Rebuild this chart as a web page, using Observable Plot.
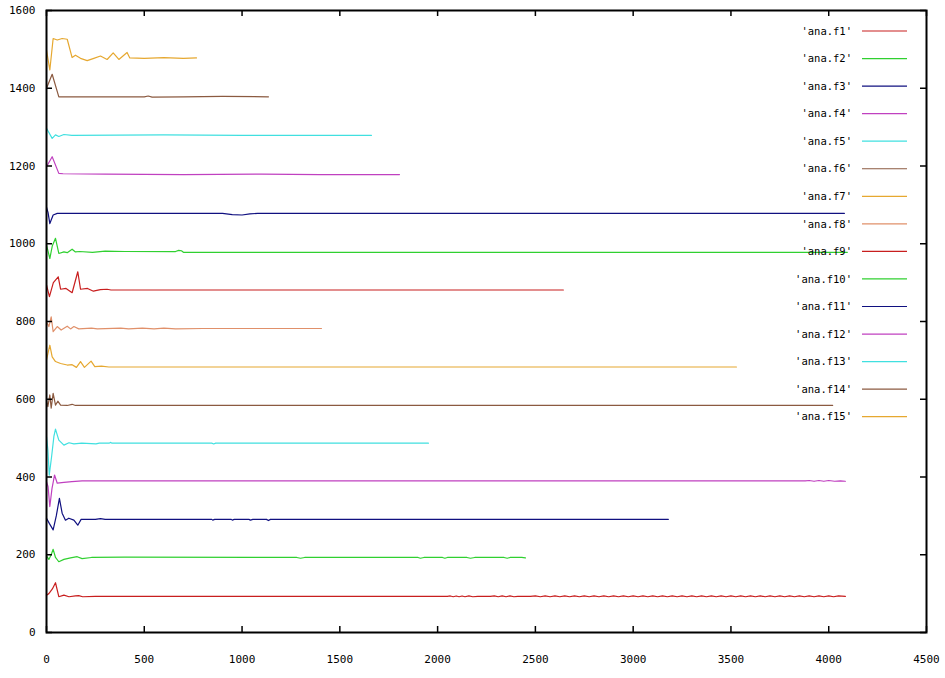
<!DOCTYPE html>
<html>
<head>
<meta charset="utf-8">
<script src="https://cdn.jsdelivr.net/npm/d3@7"></script>
<script src="https://cdn.jsdelivr.net/npm/@observablehq/plot@0.6"></script>
<style>
  html, body { margin: 0; padding: 0; background: #fff; }
  svg { display: block; }
</style>
</head>
<body>
<script>
// ---- data ----
const seriesNames = ["'ana.f1'","'ana.f2'","'ana.f3'","'ana.f4'","'ana.f5'","'ana.f6'","'ana.f7'","'ana.f8'",
  "'ana.f9'","'ana.f10'","'ana.f11'","'ana.f12'","'ana.f13'","'ana.f14'","'ana.f15'"];
const seriesColors = ["#c81e1e","#30d030","#101080","#c040c0","#40e0e0","#8b5a40","#e6a830","#e0906a",
  "#c81e1e","#30d030","#101080","#c040c0","#40e0e0","#8b5a40","#e6a830"];
const xTicks = [0,500,1000,1500,2000,2500,3000,3500,4000,4500];
const yTicks = [0,200,400,600,800,1000,1200,1400,1600];

const f1 = [[0,96],[12,100],[30,112],[46,128],[63,92],[89,96],[115,92],[148,94],[165,95],[185,92],[250,93],[1000,93],[2050,93],
  [2065,94],[2080,92],[2095,94],[2110,92],[2125,94],[2140,92],[2160,94],[2180,92],[2205,93],[2270,93],[2290,94],[2310,92],
  [2330,94],[2350,92],[2370,94],[2390,92],[2410,93],[2475,93],
  [2500,94],[2525,92],[2550,94],[2575,92],[2600,94],[2625,92],[2650,94],[2675,92],[2700,94],[2725,92],[2750,94],[2775,92],
  [2800,94],[2825,92],[2850,94],[2875,92],[2900,94],[2925,92],[2950,94],[2975,92],[3000,94],[3025,92],[3050,94],[3075,92],
  [3100,94],[3125,92],[3150,94],[3175,92],[3200,94],[3225,92],[3250,94],[3275,92],[3300,94],[3325,92],[3350,94],[3375,92],
  [3400,94],[3425,92],[3450,94],[3475,92],[3500,94],[3525,92],[3550,94],[3575,92],[3600,94],[3625,92],[3650,94],[3675,92],
  [3700,94],[3725,92],[3750,94],[3775,92],[3800,94],[3825,92],[3850,94],[3875,92],[3900,94],[3925,92],[3950,94],[3975,92],
  [4000,94],[4025,92],[4050,94],[4085,93]];
const f2 = [[0,197],[12,188],[24,200],[34,214],[46,193],[63,182],[89,188],[123,192],[157,195],[182,190],[230,193],[400,194],
  [1280,193],[1299,191],[1320,193],[1900,193],[1912,191],[1930,193],[2025,193],[2037,191],[2050,193],[2150,193],[2168,191],
  [2190,193],[2340,193],[2356,191],[2370,193],[2430,193],[2449,192]];
const f3 = [[0,294],[15,280],[34,264],[50,300],[66,345],[80,307],[97,289],[114,294],[140,289],[160,276],[177,291],[250,291],
  [276,293],[300,291],[845,291],[850,289],[860,291],[945,291],[950,289],[960,291],[1035,291],[1043,289],[1055,291],
  [1125,291],[1135,288],[1145,291],[3180,291]];
const f4 = [[0,388],[8,375],[17,324],[28,370],[41,405],[55,384],[89,386],[130,388],[182,390],[400,390],[3880,390],[3900,391],
  [3925,389],[3950,391],[3975,389],[4000,391],[4030,389],[4060,390],[4085,389]];
const f5 = [[0,504],[7,470],[14,405],[26,452],[38,505],[46,523],[63,495],[89,482],[115,488],[140,485],[180,487],[253,485],
  [270,487],[320,487],[327,489],[335,487],[845,487],[855,485],[865,487],[1953,487]];
const f6 = [[0,598],[7,581],[17,611],[24,577],[34,615],[46,585],[58,595],[72,585],[106,584],[131,587],[148,584],[4020,584]];
const f7 = [[0,701],[17,739],[29,709],[46,697],[72,692],[106,688],[131,689],[153,682],[174,697],[194,682],[228,698],[247,684],
  [281,685],[319,683],[3528,683]];
const f8 = [[0,799],[12,787],[24,812],[34,774],[55,787],[75,778],[106,788],[123,781],[140,787],[165,781],[230,783],[260,781],
  [380,783],[420,781],[490,783],[550,781],[600,783],[660,781],[800,782],[1000,782],[1200,782],[1406,782]];
const f9 = [[0,894],[15,864],[35,900],[60,915],[72,883],[100,885],[131,874],[160,928],[174,883],[210,885],[240,878],[275,882],
  [310,883],[330,881],[2643,881]];
const f10 = [[0,997],[17,962],[30,995],[46,1014],[63,975],[89,979],[106,977],[131,986],[148,979],[170,980],[235,978],
  [300,981],[400,980],[660,980],[676,983],[690,982],[700,978],[4095,978]];
const f11 = [[0,1094],[8,1080],[17,1052],[34,1074],[55,1078],[900,1078],[950,1075],[1000,1074],[1040,1077],[1080,1078],[4080,1078]];
const f12 = [[0,1198],[29,1224],[63,1181],[85,1180],[300,1179],[700,1178],[1100,1179],[1400,1178],[1805,1178]];
const f13 = [[0,1297],[29,1271],[46,1280],[63,1276],[89,1281],[130,1279],[600,1280],[1000,1279],[1662,1279]];
const f14 = [[0,1400],[29,1436],[63,1378],[300,1378],[500,1378],[520,1380],[540,1377],[700,1378],[900,1379],[1135,1378]];
const f15 = [[0,1498],[17,1447],[34,1528],[55,1524],[80,1528],[106,1526],[131,1479],[148,1485],[174,1477],[208,1471],
  [242,1477],[276,1483],[310,1474],[341,1491],[370,1474],[412,1492],[426,1478],[500,1477],[600,1479],[700,1477],[767,1478]];

const allSeries = [f1,f2,f3,f4,f5,f6,f7,f8,f9,f10,f11,f12,f13,f14,f15];
const data = allSeries.flatMap((pts, i) => pts.map(([x, y]) => ({series: seriesNames[i], x, y})));

// ---- layout ----
const W = 945, H = 678, mL = 46, mR = 19, mT = 10, mB = 46;
const plotW = W - mL - mR, plotH = H - mT - mB;
const font = "'DejaVu Sans Mono', 'Liberation Mono', monospace";

const chart = Plot.plot({
  width: W, height: H,
  marginLeft: mL, marginRight: mR, marginTop: mT, marginBottom: mB,
  style: {background: "#fff", fontFamily: font, fontSize: "10px", color: "#000"},
  x: {domain: [0, 4500], label: null},
  y: {domain: [0, 1600], label: null},
  color: {domain: seriesNames, range: seriesColors},
  marks: [
    Plot.line(data, {x: "x", y: "y", z: "series", stroke: "series", strokeWidth: 1.2}),
    Plot.axisX(xTicks, {anchor: "bottom", tickSize: 0, tickPadding: 23, fontSize: 11, fontFamily: font, tickFormat: d => String(d)}),
    Plot.axisY(yTicks, {anchor: "left", tickSize: 0, tickPadding: 11, fontSize: 11, fontFamily: font, tickFormat: d => String(d)}),
    Plot.ruleX(xTicks, {x: d => d, insetTop: plotH - 6, stroke: "#000", strokeWidth: 1.5}),
    Plot.ruleX(xTicks, {x: d => d, insetBottom: plotH - 6, stroke: "#000", strokeWidth: 1.5}),
    Plot.ruleY(yTicks, {y: d => d, insetRight: plotW - 6, stroke: "#000", strokeWidth: 1.5}),
    Plot.ruleY(yTicks, {y: d => d, insetLeft: plotW - 6, stroke: "#000", strokeWidth: 1.5}),
    Plot.frame({stroke: "#000", strokeWidth: 2})
  ]
});

// ---- legend (inside plot, top right, gnuplot style) ----
const svg = d3.select(chart);
const lg = svg.append("g").attr("font-family", font).attr("font-size", 10.5);
seriesNames.forEach((name, i) => {
  const yy = 31 + i * 27.55;
  lg.append("text").attr("x", 852).attr("y", yy).attr("dy", "0.35em")
    .attr("text-anchor", "end").attr("fill", "#000").text(name);
  lg.append("line").attr("x1", 862).attr("x2", 907).attr("y1", yy).attr("y2", yy)
    .attr("stroke", seriesColors[i]).attr("stroke-width", 1.2);
});

document.body.appendChild(chart);
</script>
</body>
</html>
